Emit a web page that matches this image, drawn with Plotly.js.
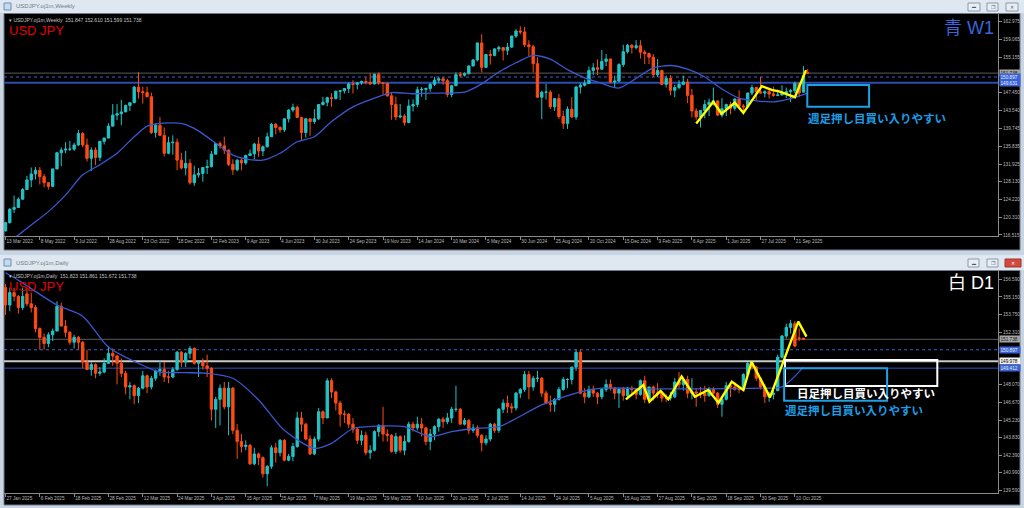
<!DOCTYPE html>
<html><head><meta charset="utf-8">
<script src="https://cdn.plot.ly/plotly-3.0.1.min.js"></script>
<style>html,body{margin:0;padding:0;background:#c9d5e2;overflow:hidden}#chart{width:1024px;height:508px}</style>
</head><body><div id="chart"></div>
<script>
// ---------------- WEEKLY (USDJPY W1) ----------------
const wOpen = [117.4,119.2,122.1,122.5,124.3,126.4,128.5,129.8,130.6,129.2,
127.9,127.1,130.9,134.4,135.0,135.2,135.2,136.1,138.6,136.1,
133.2,135.0,133.4,136.9,137.6,140.2,142.6,142.9,143.3,144.7,
145.3,148.7,147.7,147.5,146.6,138.8,140.4,138.2,134.3,136.6,
136.7,132.8,131.1,132.1,127.9,129.6,129.9,131.2,131.4,134.1,
136.4,135.9,135.0,131.9,130.7,132.8,132.2,133.8,134.2,136.3,
134.8,135.7,137.9,140.6,139.9,139.4,141.8,143.7,144.3,142.1,
138.8,141.8,141.2,141.8,144.9,145.4,146.4,146.2,147.8,147.9,
148.4,149.4,149.3,149.6,149.9,149.7,149.4,151.5,149.6,149.5,
146.8,144.9,142.2,142.4,141.0,144.6,144.9,148.1,148.2,148.4,
149.3,150.2,150.5,150.1,147.1,149.0,151.4,151.3,151.6,153.3,
154.6,158.3,153.0,155.8,155.6,157.0,157.3,156.7,157.4,159.8,
160.9,160.7,157.9,157.5,153.8,146.5,147.6,147.6,144.4,146.2,
142.3,140.8,143.9,142.2,148.7,149.1,149.5,152.3,152.9,152.6,
154.3,154.8,149.8,150.0,153.6,156.4,157.8,157.3,157.7,156.3,
156.0,155.2,151.4,152.3,149.3,150.6,148.0,148.6,149.3,149.8,
146.9,143.5,142.2,143.6,144.9,145.4,145.7,142.6,144.0,144.9,
144.1,146.1,144.6,144.4,147.4,148.6,147.7,147.4,147.7,147.2,
146.9,147.0,147.4,147.7,147.9,149.5,147.6,151.847];
const wHigh = [119.4,122.4,125.1,124.7,126.7,129.4,131.2,131.3,131.3,129.8,
128.0,130.9,134.6,135.6,136.7,137.0,136.6,139.4,138.9,137.5,
135.6,135.6,137.0,137.7,140.8,145.0,145.0,145.9,144.9,145.4,
148.9,151.95,148.8,148.8,147.5,140.8,142.2,139.9,137.9,138.2,
137.5,134.4,134.8,133.0,131.6,131.1,131.2,132.9,134.8,136.5,
136.9,137.9,135.1,133.0,133.0,133.2,134.0,135.1,136.6,137.8,
136.0,138.8,140.9,140.9,140.2,141.9,143.9,145.1,144.7,142.2,
142.0,141.9,143.9,145.0,146.6,146.6,147.4,147.9,148.0,148.5,
149.7,150.2,149.8,150.1,150.8,151.7,151.6,151.9,149.7,149.7,
147.5,146.6,145.0,142.8,146.0,146.0,148.8,148.7,148.6,149.6,
150.9,150.9,150.9,150.5,149.2,151.9,152.0,151.9,153.4,154.8,
158.4,160.2,155.9,156.8,157.2,157.7,157.4,158.3,159.9,161.3,
161.95,161.8,158.9,157.9,155.2,147.9,149.4,148.0,146.3,147.2,
143.6,144.5,146.5,149.0,149.6,150.3,153.2,153.9,154.7,156.8,
155.9,154.9,151.2,153.9,157.9,158.1,158.0,158.9,158.9,156.8,
156.2,155.9,154.8,152.5,151.2,151.3,149.2,150.2,151.2,150.5,
148.3,144.1,143.7,145.9,146.2,148.6,145.8,146.3,145.1,145.5,
146.3,148.0,145.0,147.5,149.2,148.7,150.9,148.0,148.5,148.8,
148.2,149.1,148.6,148.3,149.9,149.6,153.3,152.61];
const wLow = [117.3,119.0,121.3,122.4,124.2,126.3,126.9,128.6,127.5,126.9,
126.4,126.9,130.8,131.5,134.3,134.8,134.8,135.9,135.6,132.5,
130.4,131.7,132.6,136.2,137.6,140.2,141.5,140.4,143.3,143.5,
145.3,146.2,145.1,146.5,138.5,137.7,138.0,133.6,134.1,134.0,
130.6,130.8,129.5,127.5,127.2,129.0,128.1,129.8,131.2,134.1,
135.3,134.1,131.5,129.6,130.4,130.6,131.8,133.8,133.0,133.5,
133.7,135.6,137.9,138.4,138.8,138.9,141.0,143.2,142.0,137.2,
137.7,138.1,140.7,141.5,144.7,144.5,144.4,146.0,145.9,147.3,
147.4,147.3,148.2,149.2,149.3,149.2,149.3,149.2,147.1,146.6,
141.6,141.5,141.9,140.3,140.8,143.4,144.3,146.6,145.9,147.7,
148.9,149.6,149.2,146.5,146.5,148.9,150.8,151.0,151.5,153.2,
154.3,151.9,152.8,153.6,155.4,156.4,154.5,155.7,157.2,159.4,
160.2,157.4,155.4,151.9,146.4,141.7,146.0,143.9,143.5,141.8,
139.6,139.6,142.0,141.6,147.3,148.8,149.4,151.3,151.3,152.5,
153.3,149.5,148.6,149.8,153.1,156.0,156.0,156.9,154.9,153.7,
153.7,150.9,150.9,149.2,148.6,146.9,146.5,148.2,149.1,145.2,
142.1,141.6,139.9,141.9,142.4,144.7,142.4,142.1,142.4,142.8,
143.6,144.1,142.7,144.2,146.9,145.9,147.3,146.5,146.2,146.6,
146.7,146.8,146.3,145.5,147.4,146.6,147.6,151.599];
const wClose = [119.2,122.1,122.5,124.3,126.4,128.5,129.8,130.6,129.2,127.9,
127.1,130.9,134.4,135.0,135.2,135.2,136.1,138.6,136.1,133.2,
135.0,133.4,136.9,137.6,140.2,142.6,142.9,143.3,144.7,145.3,
148.7,147.7,147.5,146.6,138.8,140.4,138.2,134.3,136.6,136.7,
132.8,131.1,132.1,127.9,129.6,129.9,131.2,131.4,134.1,136.4,
135.9,135.0,131.9,130.7,132.8,132.2,133.8,134.2,136.3,134.8,
135.7,137.9,140.6,139.9,139.4,141.8,143.7,144.3,142.1,138.8,
141.8,141.2,141.8,144.9,145.4,146.4,146.2,147.8,147.9,148.4,
149.4,149.3,149.6,149.9,149.7,149.4,151.5,149.6,149.5,146.8,
144.9,142.2,142.4,141.0,144.6,144.9,148.1,148.2,148.4,149.3,
150.2,150.5,150.1,147.1,149.0,151.4,151.3,151.6,153.3,154.6,
158.3,153.0,155.8,155.6,157.0,157.3,156.7,157.4,159.8,160.9,
160.7,157.9,157.5,153.8,146.5,147.6,147.6,144.4,146.2,142.3,
140.8,143.9,142.2,148.7,149.1,149.5,152.3,152.9,152.6,154.3,
154.8,149.8,150.0,153.6,156.4,157.8,157.3,157.7,156.3,156.0,
155.2,151.4,152.3,149.3,150.6,148.0,148.6,149.3,149.8,146.9,
143.5,142.2,143.6,144.9,145.4,145.7,142.6,144.0,144.9,144.1,
146.1,144.6,144.4,147.4,148.6,147.7,147.4,147.7,147.2,146.9,
147.0,147.4,147.7,147.9,149.5,147.4,151.2,151.738];
const wTickLabels = ['13 Mar 2022','8 May 2022','3 Jul 2022','28 Aug 2022','23 Oct 2022','18 Dec 2022','12 Feb 2023','9 Apr 2023','4 Jun 2023','30 Jul 2023','24 Sep 2023','19 Nov 2023','14 Jan 2024','10 Mar 2024','5 May 2024','30 Jun 2024','25 Aug 2024','20 Oct 2024','15 Dec 2024','9 Feb 2025','6 Apr 2025','1 Jun 2025','27 Jul 2025','21 Sep 2025'];
const wTickBars = [0,8,16,24,32,40,48,56,64,72,80,88,96,104,112,120,128,136,144,152,160,168,176,184];
const wPriceTicks = [162.975,159.065,155.155,147.450,143.540,139.745,135.835,131.925,128.130,124.220,120.310,116.515];
const wMaBar = [2,6,10,14,18,22,26,30,33,36,41,44,48,53,56,60,64,68,72,76,81,86,90,95,99,103,107,111,115,119,123,127,131,135,139,143,147,151,155,159,163,167,171,175,179,183,187];
const wMaVal = [115.8,118.7,121.6,125.2,129.6,131.8,134.3,137.9,140.2,140.8,140.8,139.7,137.2,133.9,133.1,132.8,134.3,136.8,137.9,141.2,144.4,146.3,147.5,147.25,147.4,147.4,147.6,149.4,152.0,154.0,155.6,154.8,152.5,150.7,149.5,148.5,150.6,152.9,153.4,152.6,150.9,148.3,146.3,145.7,145.5,146.2,147.4];
const wZigBar = [161.0,165.0,166.9,170.0,172.0,176.3,178.6,180.5,184.0,186.6];
const wZigVal = [140.8,145.5,142.9,145.3,143.1,148.9,148.1,147.7,146.5,152.4];
const wBid = 151.738, wDotLevel = 150.897, wLineLevel = 149.631;
const wZoneBars = [186.9, 201.3], wZonePrices = [144.43, 149.16];

// ---------------- DAILY (USDJPY D1) ----------------
const dOpen = [155.9,154.5,155.5,155.2,154.3,155.4,154.6,154.3,152.6,151.9,
151.4,152.1,152.4,154.4,152.8,152.3,151.5,151.9,151.5,149.9,
149.3,149.7,149.0,149.1,149.8,150.6,150.4,149.8,149.0,147.9,
148.0,147.2,147.8,148.8,147.9,148.6,149.2,149.3,148.7,148.7,
149.3,150.7,149.9,150.6,151.0,149.8,149.9,149.6,149.4,146.1,
146.9,147.8,146.3,147.8,144.4,143.5,143.1,143.2,141.7,142.5,
142.2,140.9,141.5,143.0,142.6,143.6,142.0,142.3,143.1,145.4,
144.9,143.7,142.5,143.7,145.9,145.4,148.4,147.5,146.6,145.7,
145.7,144.9,144.5,143.6,144.0,142.6,142.8,144.3,144.8,144.1,
144.0,142.7,143.9,142.8,143.5,144.9,144.6,144.9,144.6,143.5,
144.1,144.7,145.3,145.1,145.4,146.1,146.1,144.9,145.2,144.4,
144.6,144.0,143.4,143.7,144.9,144.4,146.1,146.6,146.3,146.2,
147.4,147.7,148.9,147.9,148.6,148.6,147.4,146.6,146.5,146.9,
147.7,148.5,148.5,149.5,150.7,147.4,147.1,147.7,147.4,147.1,
147.7,148.1,147.8,147.4,147.7,147.2,147.8,147.7,147.3,148.4,
146.9,147.9,147.4,147.4,147.0,147.0,147.1,148.3,148.1,148.5,
147.4,147.5,147.4,147.4,147.2,147.7,147.4,146.5,146.9,148.0,
147.9,147.7,147.7,148.9,149.8,149.5,148.6,147.9,147.1,147.3,
147.6,150.3,152.0,152.7,153.0,151.85,151.823];
const dHigh = [156.2,155.9,155.9,155.3,155.9,155.9,155.5,154.5,152.7,152.2,
152.3,152.6,154.8,154.7,153.3,152.4,152.1,152.0,151.6,150.9,
149.9,149.8,149.5,150.2,151.2,151.0,150.5,150.2,149.2,148.3,
148.1,147.9,149.2,148.9,148.8,149.3,150.0,149.9,149.2,149.5,
150.8,150.8,150.7,151.2,151.1,150.0,150.2,150.5,149.5,147.1,
148.1,148.3,148.3,147.9,144.9,144.1,143.6,143.3,143.0,142.6,
142.3,141.6,143.2,143.4,143.7,143.7,142.5,143.4,145.9,145.9,
145.0,144.0,143.9,146.2,146.0,148.6,148.6,147.6,146.8,146.0,
145.8,145.4,144.6,144.4,144.3,143.2,144.4,144.9,146.3,144.5,
144.1,144.2,144.0,144.0,145.1,145.1,145.5,145.4,144.7,144.5,
144.8,145.4,145.5,145.8,146.3,148.0,146.2,145.4,145.3,144.9,
144.8,144.1,144.0,145.0,145.0,146.2,146.9,147.2,146.6,147.5,
147.8,149.2,149.2,148.8,149.2,148.7,147.6,147.2,147.0,147.9,
148.7,148.6,149.5,150.9,150.9,147.8,148.0,148.0,147.5,147.8,
148.5,148.5,147.9,147.8,147.9,147.9,148.0,147.8,148.5,148.8,
147.9,148.0,148.2,147.6,147.3,147.5,148.6,149.1,148.6,148.8,
148.6,147.8,147.9,148.0,147.9,147.9,147.5,147.0,148.3,148.2,
148.3,147.9,149.0,149.9,149.9,149.6,148.7,148.1,147.5,147.8,
150.5,152.1,153.0,153.3,153.2,152.61,151.861];
const dLow = [153.7,154.0,154.8,153.8,154.1,154.4,153.9,152.3,150.9,150.9,
151.1,151.6,152.4,152.8,151.9,151.3,151.0,150.9,149.4,149.3,
148.8,148.6,148.8,149.0,149.8,149.6,148.1,148.7,147.3,146.9,
146.5,146.6,147.7,147.4,147.7,148.4,148.8,148.3,148.2,148.6,
149.2,149.5,149.5,150.2,149.7,148.7,149.3,148.7,145.2,144.6,
144.8,146.1,144.0,144.1,142.1,142.6,142.8,141.6,141.6,141.6,
140.6,139.9,141.3,141.8,142.3,141.9,141.9,141.9,143.0,144.3,
143.6,142.4,142.4,143.5,144.9,145.4,147.0,146.0,144.7,145.0,
144.6,144.2,143.3,143.2,142.4,142.1,142.7,143.9,143.5,143.5,
142.6,142.5,142.6,142.4,143.4,144.3,144.4,143.9,143.2,142.8,
143.6,144.3,144.6,144.9,145.0,145.9,144.9,144.8,144.1,144.2,
143.8,142.7,143.2,143.5,144.2,144.2,145.8,145.8,145.8,146.0,
147.0,147.5,146.9,147.6,148.3,147.1,146.5,145.9,145.9,146.8,
147.6,147.8,148.1,149.2,147.3,146.6,147.0,147.1,146.5,146.9,
147.5,147.6,146.9,146.2,146.8,147.0,147.4,146.9,147.2,146.6,
146.8,146.8,147.0,146.7,146.7,146.8,147.0,147.8,147.6,147.0,
146.9,146.3,147.0,146.7,147.1,147.3,146.2,145.5,146.8,147.1,
147.6,147.4,147.6,148.7,149.3,148.4,147.7,146.6,146.7,146.9,
147.6,150.2,151.8,152.2,151.1,151.6,151.672];
const dClose = [154.5,155.5,155.2,154.3,155.2,154.6,154.3,152.6,151.9,151.4,
152.1,152.4,154.4,152.8,152.3,151.5,151.9,151.5,149.9,149.3,
149.7,149.0,149.1,149.8,150.6,150.4,149.8,149.0,147.9,148.0,
147.2,147.8,148.8,147.9,148.6,149.2,149.3,148.7,148.7,149.3,
150.7,149.9,150.6,151.0,149.8,149.9,149.6,149.4,146.1,146.9,
147.8,146.3,147.8,144.4,143.5,143.1,143.2,141.7,142.5,142.2,
140.9,141.5,143.0,142.6,143.6,142.0,142.3,143.1,145.4,144.9,
143.7,142.5,143.7,145.9,145.4,148.4,147.5,146.6,145.7,145.7,
144.9,144.5,143.6,144.0,142.6,142.8,144.3,144.8,144.1,144.0,
142.7,143.9,142.8,143.5,144.9,144.6,144.9,144.6,143.5,144.1,
144.7,145.3,145.1,145.4,146.1,146.1,144.9,145.2,144.4,144.6,
144.0,143.4,143.7,144.9,144.4,146.1,146.6,146.3,146.2,147.4,
147.7,148.9,147.9,148.6,148.6,147.4,146.6,146.5,146.9,147.7,
148.5,148.5,149.5,150.7,147.4,147.1,147.7,147.4,147.1,147.7,
148.1,147.8,147.4,147.7,147.2,147.8,147.7,147.3,148.4,146.9,
147.9,147.4,147.4,147.0,147.0,147.1,148.3,148.1,148.5,147.4,
147.5,147.4,147.4,147.2,147.7,147.4,146.5,146.9,148.0,147.9,
147.7,147.7,148.9,149.8,149.5,148.6,147.9,147.1,147.3,147.4,
150.3,152.0,152.7,153.0,151.2,151.82,151.738];
const dTickLabels = ['27 Jan 2025','6 Feb 2025','18 Feb 2025','28 Feb 2025','12 Mar 2025','24 Mar 2025','3 Apr 2025','15 Apr 2025','25 Apr 2025','7 May 2025','19 May 2025','29 May 2025','10 Jun 2025','20 Jun 2025','2 Jul 2025','14 Jul 2025','24 Jul 2025','5 Aug 2025','15 Aug 2025','27 Aug 2025','8 Sep 2025','18 Sep 2025','30 Sep 2025','10 Oct 2025'];
const dTickBars = [0,8,16,24,32,40,48,56,64,72,80,88,96,104,112,120,128,136,144,152,160,168,176,184];
const dPriceTicks = [156.590,155.150,153.750,152.310,148.070,146.670,145.230,143.830,142.390,140.990,139.590];
const dMaBar = [0,3,12,18,24,31,36,42,47,53,59,65,72,76,81,87,93,99,104,109,115,125,134,139,150,162,176,181,186];
const dMaVal = [157.1,156.5,154.5,153.6,151.1,149.8,149.1,149.05,149.0,148.6,146.85,144.4,142.95,143.35,144.55,144.75,144.7,143.9,144.3,144.55,144.7,146.45,147.5,147.8,147.75,147.75,147.8,147.9,149.5];
const dZigBar = [144.6,148.7,150.1,152.7,154.5,157.6,160.7,163.8,166.2,169.3,172.0,173.9,178.2,184.8,186.7];
const dZigVal = [146.9,148.06,146.71,147.57,146.9,148.73,147.11,147.65,146.63,148.32,147.65,149.93,147.06,153.16,151.95];
const dBid = 151.738, dDotLevel = 150.897, dWhiteLevel = 149.978, dLineLevel = 149.412;
const dWhiteZoneBars = [181.7, 217.2], dWhiteZonePrices = [147.97, 150.07];
const dBlueZoneBars = [181.5, 205.5], dBlueZonePrices = [146.79, 149.40];

// ---------------- drawing ----------------
const W = 1024, H = 508;
const px = x => x / W, py = y => 1 - y / H;
const xRange = [-0.35, 231.35];
const bars = a => a.map((_, i) => i);
const upColor = '#22c3c6', downColor = '#ff4b14', maColor = '#3a58d0';
const FONT = 'Liberation Sans, Arial, sans-serif';
const JP = 'Noto Sans CJK JP, sans-serif';

function candle(o, h, l, c, xa, ya) {
  return {type:'candlestick', x:bars(o), open:o, high:h, low:l, close:c, xaxis:xa, yaxis:ya,
    increasing:{line:{color:upColor, width:1}, fillcolor:upColor},
    decreasing:{line:{color:downColor, width:1}, fillcolor:downColor},
    whiskerwidth:0, hoverinfo:'skip', showlegend:false};
}
function line(xs, ys, xa, ya, color, width, shape) {
  return {type:'scatter', mode:'lines', x:xs, y:ys, xaxis:xa, yaxis:ya,
    line:{color:color, width:width, shape:shape || 'linear', smoothing:0.7},
    hoverinfo:'skip', showlegend:false, cliponaxis:true};
}

const traces = [
  line(wMaBar, wMaVal, 'x', 'y', maColor, 1.3, 'spline'),
  candle(wOpen, wHigh, wLow, wClose, 'x', 'y'),
  line(wZigBar, wZigVal, 'x', 'y', '#ffff00', 2.4),
  line(dMaBar, dMaVal, 'x2', 'y2', maColor, 1.3, 'spline'),
  candle(dOpen, dHigh, dLow, dClose, 'x2', 'y2'),
  line(dZigBar, dZigVal, 'x2', 'y2', '#ffff00', 2.4)
];

const tickFont = {family:FONT, size:4.7, color:'#b9b9b9'};
const xBase = {range:xRange, domain:[px(4), px(998)], showgrid:false, zeroline:false,
  showline:true, linecolor:'#8a8a8a', linewidth:1, ticks:'outside', ticklen:3, tickcolor:'#8a8a8a',
  tickfont:tickFont, tickangle:0, automargin:false, ticklabelposition:'outside right',
  rangeslider:{visible:false}, fixedrange:true};
const yBase = {side:'right', showgrid:false, zeroline:false, showline:true, linecolor:'#8a8a8a',
  linewidth:1, ticks:'outside', ticklen:3, tickcolor:'#8a8a8a', tickfont:tickFont,
  automargin:false, fixedrange:true};

function rectPx(x0, y0, x1, y1, fill, lc, lw) {
  return {type:'rect', xref:'paper', yref:'paper', x0:px(x0), x1:px(x1), y0:py(y1), y1:py(y0),
    fillcolor:fill, line:{color:lc || 'rgba(0,0,0,0)', width:lw || 0}, layer:'below'};
}
function level(ya, price, color, width, dash) {
  return {type:'line', xref:'paper', yref:ya, x0:px(4), x1:px(998), y0:price, y1:price,
    line:{color:color, width:width, dash:dash || 'solid'}, layer:'below'};
}
function zone(xa, ya, b, p, color) {
  return {type:'rect', xref:xa, yref:ya, x0:b[0], x1:b[1], y0:p[0], y1:p[1],
    line:{color:color, width:2}, fillcolor:'rgba(0,0,0,0)', layer:'above'};
}

const shapes = [
  rectPx(0, 0, 1024, 13, '#dfe7f0'),
  rectPx(4, 13.5, 1020, 250, '#000000', '#6f7a86', 1),
  rectPx(0, 255, 1024, 270, '#dfe7f0'),
  rectPx(4, 270.5, 1020, 505, '#000000', '#6f7a86', 1),
  rectPx(4, 3, 11, 10, '#c5daee', '#6c8db3', 1),
  rectPx(4, 259, 11, 266, '#c5daee', '#6c8db3', 1),
  rectPx(968, 3, 980, 11, '#e9eef4', '#8a99ab', 1),
  rectPx(987, 3, 998, 11, '#e9eef4', '#8a99ab', 1),
  rectPx(1006, 3, 1018, 11, '#e9eef4', '#8a99ab', 1),
  rectPx(968, 259, 979, 267, '#e9eef4', '#8a99ab', 1),
  rectPx(987, 259, 998, 267, '#e9eef4', '#8a99ab', 1),
  rectPx(1005, 259, 1021, 267, '#d4493c', '#9a3a30', 1),
  level('y', wBid, '#5c5c5c', 1),
  level('y', wDotLevel, '#3d5fd8', 1, 'dot'),
  level('y', wLineLevel, '#2d4bb0', 2),
  level('y2', dBid, '#5c5c5c', 1),
  level('y2', dDotLevel, '#3d5fd8', 1, 'dot'),
  level('y2', dWhiteLevel, '#c9c9c9', 2),
  level('y2', dLineLevel, '#3050c0', 1),
  zone('x', 'y', wZoneBars, wZonePrices, '#1ea0e6'),
  zone('x2', 'y2', dWhiteZoneBars, dWhiteZonePrices, '#ffffff'),
  zone('x2', 'y2', dBlueZoneBars, dBlueZonePrices, '#1ea0e6')
];

function txt(x, y, text, size, color, family, extra) {
  return Object.assign({xref:'paper', yref:'paper', x:px(x), y:py(y), xanchor:'left', yanchor:'middle',
    showarrow:false, text:text, borderpad:0, font:{family:family || FONT, size:size, color:color}}, extra || {});
}
function priceTag(ya, price, bg, fg) {
  return {xref:'paper', yref:ya, x:px(999), y:price, xanchor:'left', yanchor:'middle', showarrow:false,
    text:price.toFixed(3), bgcolor:bg, borderpad:0.5, width:19, align:'left',
    font:{family:FONT, size:4.7, color:fg}};
}

const annotations = [
  txt(15, 6.5, 'USDJPY.oj1m,Weekly', 6, '#707a86'),
  txt(15, 262.5, 'USDJPY.oj1m,Daily', 6, '#707a86'),
  txt(8, 19.5, '\u25BE USDJPY.oj1m,Weekly\u00a0\u00a0151.847 152.610 151.599 151.738', 5, '#c4c4c4'),
  txt(8, 276, '\u25BE USDJPY.oj1m,Daily\u00a0\u00a0151.823 151.861 151.672 151.738', 5, '#c4c4c4'),
  txt(8, 30.5, 'USD JPY', 13, '#e00000'),
  txt(8, 286.5, 'USD JPY', 13, '#e00000'),
  txt(943, 28, '青 W1', 18, '#3a64d8', FONT + ', ' + JP),
  txt(947, 283, '白 D1', 18, '#ffffff', FONT + ', ' + JP),
  txt(807, 117.5, '<b>週足押し目買い入りやすい</b>', 11.5, '#1c9de4', JP),
  txt(796, 392.5, '<b>日足押し目買い入りやすい</b>', 11.5, '#ffffff', JP),
  txt(784, 410, '<b>週足押し目買い入りやすい</b>', 11.5, '#1c9de4', JP),
  txt(971, 7, '▬', 4, '#4b5a6b'),
  txt(989.5, 7, '❐', 5, '#4b5a6b'),
  txt(1009, 7, '✕', 5, '#4b5a6b'),
  txt(971, 263, '▬', 4, '#4b5a6b'),
  txt(989.5, 263, '❐', 5, '#4b5a6b'),
  txt(1010, 263, '✕', 5, '#ffffff'),
  priceTag('y', wBid, '#a4a4a4', '#1a1a1a'),
  priceTag('y', wDotLevel, '#3b63d6', '#e6ecff'),
  priceTag('y', wLineLevel, '#3b63d6', '#e6ecff'),
  priceTag('y2', dBid, '#a4a4a4', '#1a1a1a'),
  priceTag('y2', dDotLevel, '#3b63d6', '#e6ecff'),
  priceTag('y2', dWhiteLevel, '#f2f2f2', '#000000'),
  priceTag('y2', dLineLevel, '#3b63d6', '#e6ecff')
];

const layout = {
  width:W, height:H, margin:{l:0, r:0, t:0, b:0, pad:0},
  paper_bgcolor:'#c9d5e2', plot_bgcolor:'#000000', showlegend:false,
  font:{family:FONT, color:'#b9b9b9'},
  boxgap:0.45, boxgroupgap:0,
  xaxis: Object.assign({}, xBase, {anchor:'y', tickvals:wTickBars, ticktext:wTickLabels}),
  yaxis: Object.assign({}, yBase, {anchor:'x', domain:[py(236), py(14)], range:[116.294, 164.607],
    tickvals:wPriceTicks, ticktext:wPriceTicks.map(v => v.toFixed(3))}),
  xaxis2: Object.assign({}, xBase, {anchor:'y2', tickvals:dTickBars, ticktext:dTickLabels}),
  yaxis2: Object.assign({}, yBase, {anchor:'x2', domain:[py(493), py(271)], range:[139.353, 157.242],
    tickvals:dPriceTicks, ticktext:dPriceTicks.map(v => v.toFixed(3))}),
  shapes:shapes, annotations:annotations
};

Plotly.newPlot('chart', traces, layout, {staticPlot:true, displayModeBar:false});
</script>
</body></html>
